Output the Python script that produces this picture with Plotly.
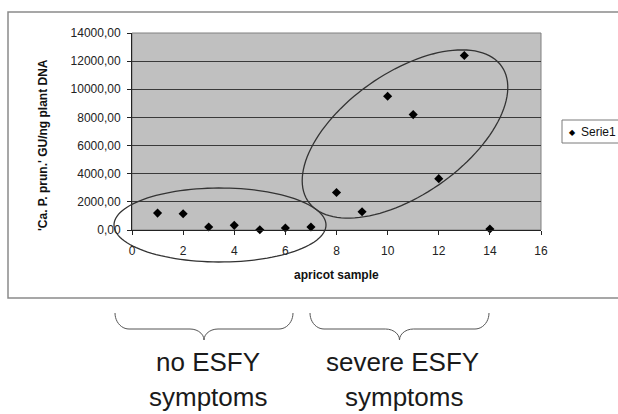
import numpy as np
import plotly.graph_objects as go

# apricot samples and phytoplasma titre
sample = [1, 2, 3, 4, 5, 6, 7, 8, 9, 10, 11, 12, 13, 14]
titre = [1200, 1150, 210, 330, 20, 140, 210, 2670, 1300, 9500, 8200, 3650, 12400, 70]
series_name = "Serie1"
y_ticks = [0, 2000, 4000, 6000, 8000, 10000, 12000, 14000]
x_ticks = [0, 2, 4, 6, 8, 10, 12, 14, 16]

W, H = 618, 414
L, R, T, B = 132, 541, 33, 230  # plot-area edges in page pixels
FONT = "Liberation Sans, Arial, sans-serif"


def px(x, y):
    """page pixel -> paper coordinates"""
    return (x - L) / (R - L), (B - y) / (B - T)


def path_from(points, close=False):
    parts = []
    for i, (x, y) in enumerate(points):
        u, v = px(x, y)
        parts.append(("M" if i == 0 else "L") + f"{u:.5f},{v:.5f}")
    return " ".join(parts) + (" Z" if close else "")


def ellipse(cx, cy, a, b, deg):
    th = np.radians(deg)
    t = np.linspace(0, 2 * np.pi, 120)
    xs = cx + a * np.cos(t) * np.cos(th) + b * np.sin(t) * np.sin(th)
    ys = cy - a * np.cos(t) * np.sin(th) + b * np.sin(t) * np.cos(th)
    return path_from(zip(xs, ys), close=True)


def brace(x0, x1, ytop, depth=16, tip=11):
    xm = (x0 + x1) / 2
    yb = ytop + depth
    pts = []
    # left half: curl from the end down to the flat, then to the tip
    for s in np.linspace(0, 1, 12):
        pts.append((x0 + 14 * (1 - np.cos(s * np.pi / 2)), ytop + depth * np.sin(s * np.pi / 2)))
    pts.append((xm - 14, yb))
    for s in np.linspace(0, 1, 8):
        pts.append((xm - 14 + 14 * np.sin(s * np.pi / 2), yb + tip * (1 - np.cos(s * np.pi / 2))))
    for s in np.linspace(1, 0, 8):
        pts.append((xm + 14 - 14 * np.sin(s * np.pi / 2), yb + tip * (1 - np.cos(s * np.pi / 2))))
    pts.append((x1 - 14, yb))
    for s in np.linspace(1, 0, 12):
        pts.append((x1 - 14 * (1 - np.cos(s * np.pi / 2)), ytop + depth * np.sin(s * np.pi / 2)))
    return path_from(pts)


fig = go.Figure()
fig.add_trace(go.Scatter(
    x=sample, y=titre, mode="markers", name=series_name,
    marker=dict(symbol="diamond", size=7, color="black"),
    cliponaxis=False, showlegend=False,
))

shapes = []
# outer chart frame
fx0, fy0 = px(8, 298)
fx1, fy1 = px(626, 12)
shapes.append(dict(type="rect", xref="paper", yref="paper", x0=fx0, y0=fy0, x1=fx1, y1=fy1,
                   line=dict(color="#8a8a8a", width=1.5), layer="below"))
# plot-area border
shapes.append(dict(type="rect", xref="paper", yref="paper", x0=0, y0=0, x1=1, y1=1,
                   line=dict(color="#808080", width=1), layer="below"))
# group ellipses
shapes.append(dict(type="path", xref="paper", yref="paper", path=ellipse(220, 225, 106, 37, 0),
                   line=dict(color="#333333", width=1.3), layer="above"))
shapes.append(dict(type="path", xref="paper", yref="paper", path=ellipse(405, 134, 118, 61, 35),
                   line=dict(color="#333333", width=1.3), layer="above"))
# legend box
lx0, ly0 = px(562, 143)
lx1, ly1 = px(640, 120)
shapes.append(dict(type="rect", xref="paper", yref="paper", x0=lx0, y0=ly0, x1=lx1, y1=ly1,
                   line=dict(color="#7a7a7a", width=1), fillcolor="white"))
# braces under the chart
shapes.append(dict(type="path", xref="paper", yref="paper", path=brace(115, 293, 313),
                   line=dict(color="#555555", width=1)))
shapes.append(dict(type="path", xref="paper", yref="paper", path=brace(310, 489, 313),
                   line=dict(color="#555555", width=1)))

annotations = []


def note(text, x, y, size, bold=False, angle=0, xanchor="center", color="#111111"):
    u, v = px(x, y)
    annotations.append(dict(
        text=f"<b>{text}</b>" if bold else text, x=u, y=v, xref="paper", yref="paper",
        showarrow=False, xanchor=xanchor, yanchor="middle", textangle=angle,
        font=dict(family=FONT, size=size, color=color),
    ))


note("'Ca. P. prun.' GU/ng plant DNA", 43, 145, 12, bold=True, angle=-90)
note("apricot sample", 336, 275, 12, bold=True)
note("◆", 572, 132, 8, xanchor="center", color="black")
note(series_name, 579, 132, 12, xanchor="left")
note("no ESFY", 208, 362, 26, color="#1a1a1a")
note("symptoms", 208, 397, 26, color="#1a1a1a")
note("severe ESFY", 402, 362, 26, color="#1a1a1a")
note("symptoms", 404, 397, 26, color="#1a1a1a")

fig.update_layout(
    width=W, height=H,
    margin=dict(l=L, r=W - R, t=T, b=H - B, pad=0),
    paper_bgcolor="white", plot_bgcolor="#c0c0c0",
    separators=", ",
    font=dict(family=FONT, size=12, color="#111111"),
    shapes=shapes, annotations=annotations,
    showlegend=False,
)
fig.update_xaxes(
    range=[0, 16], tickvals=x_ticks, showgrid=False, zeroline=False,
    showline=True, linecolor="#222222", linewidth=1,
    ticks="outside", ticklen=4, tickcolor="#222222", ticklabelstandoff=6,
    tickfont=dict(family=FONT, size=12, color="#222222"),
)
fig.update_yaxes(
    range=[0, 14000], tickvals=y_ticks, tickformat=".2f",
    showgrid=True, gridcolor="#3a3a3a", gridwidth=1.2, zeroline=False,
    showline=True, linecolor="#222222", linewidth=1,
    ticks="outside", ticklen=4, tickcolor="#222222", ticklabelstandoff=4,
    tickfont=dict(family=FONT, size=12, color="#222222"),
)

fig.write_html("out.html")
